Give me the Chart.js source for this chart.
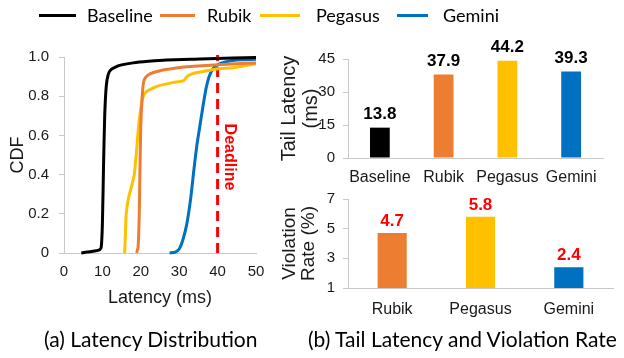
<!DOCTYPE html>
<html>
<head>
<meta charset="utf-8">
<script src="https://cdn.jsdelivr.net/npm/chart.js@4.4.1/dist/chart.umd.min.js"></script>
<style>
  html, body { margin: 0; padding: 0; background: #fff; }
  #wrap { position: relative; width: 624px; height: 358px; overflow: hidden; }
  #wrap canvas { position: absolute; left: 0; top: 0; }
  .leg { position: absolute; top: 4px; font: 18px Lato, sans-serif; color: #000; line-height: 22px; }
  .leg i { position: absolute; top: 10px; height: 3px; }
  .cap { position: absolute; top: 326px; font: 21px Lato, sans-serif; color: #000; white-space: nowrap; }
</style>
</head>
<body>
<div id="wrap">
  <canvas id="cdf-chart" width="624" height="358"></canvas>
  <canvas id="tail-chart" width="624" height="358"></canvas>
  <canvas id="viol-chart" width="624" height="358"></canvas>

  <div class="leg" style="left:87px"><i style="left:-48px;width:37px;background:#000"></i>Baseline</div>
  <div class="leg" style="left:207px"><i style="left:-47px;width:35px;background:#ED7D31"></i>Rubik</div>
  <div class="leg" style="left:316px"><i style="left:-56px;width:40px;background:#FFC000"></i>Pegasus</div>
  <div class="leg" style="left:443px"><i style="left:-46px;width:31px;background:#0070C0"></i>Gemini</div>

  <div class="cap" style="left:44px">(a) Latency Distribution</div>
  <div class="cap" style="left:308px">(b) Tail Latency and Violation Rate</div>
</div>

<script>
// CDF data (latency ms / cumulative fraction)
const baselineX = [4.5, 6, 8, 9.3, 9.7, 10.0, 10.3, 10.6, 11.0, 11.5, 12.2, 13.5, 15, 18, 22, 26.7, 35.4, 44, 50];
const baselineY = [0, 0.005, 0.01, 0.017, 0.03, 0.15, 0.45, 0.7, 0.85, 0.91, 0.935, 0.95, 0.96, 0.97, 0.978, 0.985, 0.99, 0.995, 0.997];

const rubikX = [18.9, 19.3, 19.6, 19.8, 20.0, 20.3, 20.7, 21.2, 22.5, 25, 28, 32, 36, 40, 45, 50];
const rubikY = [0, 0.03, 0.2, 0.45, 0.65, 0.78, 0.87, 0.895, 0.915, 0.93, 0.94, 0.95, 0.955, 0.96, 0.965, 0.97];

const pegasusX = [15.8, 16.0, 16.2, 16.8, 17.6, 18.3, 18.8, 19.3, 19.8, 20.5, 21.3, 23, 25, 28.5, 31.2, 32, 33.5, 36, 40, 44, 47, 50];
const pegasusY = [0, 0.1, 0.2, 0.28, 0.34, 0.4, 0.5, 0.62, 0.71, 0.79, 0.82, 0.84, 0.855, 0.87, 0.88, 0.9, 0.915, 0.925, 0.94, 0.945, 0.955, 0.965];

const geminiX = [27.5, 29, 30, 31, 32, 33, 33.8, 34.6, 35.4, 36.2, 37, 37.8, 38.8, 40, 42, 45, 50];
const geminiY = [0, 0.005, 0.02, 0.07, 0.15, 0.28, 0.42, 0.55, 0.65, 0.75, 0.84, 0.9, 0.94, 0.96, 0.975, 0.985, 0.988];

const deadline = 40;

// bar data
const tailCats = ['Baseline', 'Rubik', 'Pegasus', 'Gemini'];
const tailVals = [13.8, 37.9, 44.2, 39.3];
const tailColors = ['#000000', '#ED7D31', '#FFC000', '#0070C0'];

const violCats = ['Rubik', 'Pegasus', 'Gemini'];
const violVals = [4.7, 5.8, 2.4];
const violColors = ['#ED7D31', '#FFC000', '#0070C0'];

const FONT = "'Liberation Sans', Arial, sans-serif";
const AXIS = '#c8c8c8';
const TXT = '#1a1a1a';

Chart.defaults.font.family = FONT;
Chart.defaults.color = TXT;
Chart.defaults.animation = false;

const pts = (xs, ys) => xs.map((x, i) => ({ x: x, y: ys[i] }));

function fixSize(w, h) {
    return function (scale) {
        if (w != null) scale.width = w;
        if (h != null) scale.height = h;
    };
}

// rotated "Deadline" note next to the dashed line
const deadlineNote = {
    id: 'deadlineNote',
    afterDatasetsDraw(chart) {
        const { ctx, scales } = chart;
        const x = scales.x.getPixelForValue(deadline) + 12;
        const y = scales.y.getPixelForValue(0.49);
        ctx.save();
        ctx.translate(x, y);
        ctx.rotate(Math.PI / 2);
        ctx.font = 'bold 16px ' + FONT;
        ctx.fillStyle = '#FF0000';
        ctx.textAlign = 'center';
        ctx.textBaseline = 'middle';
        ctx.fillText('Deadline', 0, 0);
        ctx.restore();
    }
};

// value labels above bars
function barLabels(color, gap) {
    return {
        id: 'barLabels',
        afterDatasetsDraw(chart) {
            const { ctx } = chart;
            const meta = chart.getDatasetMeta(0);
            const vals = chart.data.datasets[0].data;
            ctx.save();
            ctx.font = 'bold 17px ' + FONT;
            ctx.fillStyle = color;
            ctx.textAlign = 'center';
            ctx.textBaseline = 'bottom';
            meta.data.forEach((bar, i) => {
                ctx.fillText(vals[i].toFixed(1), bar.x, bar.y - gap);
            });
            ctx.restore();
        }
    };
}

const lineDs = (label, data, color) => ({
    label: label,
    data: data,
    borderColor: color,
    borderWidth: 3,
    pointRadius: 0,
    tension: 0.2,
    fill: false
});

// (a) CDF chart
new Chart(document.getElementById('cdf-chart').getContext('2d'), {
    type: 'line',
    data: {
        datasets: [
            lineDs('Baseline', pts(baselineX, baselineY), '#000000'),
            lineDs('Rubik', pts(rubikX, rubikY), '#ED7D31'),
            lineDs('Pegasus', pts(pegasusX, pegasusY), '#FFC000'),
            lineDs('Gemini', pts(geminiX, geminiY), '#0070C0'),
            {
                label: 'Deadline',
                data: [{ x: deadline, y: 0 }, { x: deadline, y: 1.01 }],
                borderColor: '#FF0000',
                borderWidth: 3,
                borderDash: [10, 6],
                pointRadius: 0
            }
        ]
    },
    options: {
        responsive: false,
        clip: false,
        layout: { padding: { left: 0, top: 57, right: 368, bottom: 49 } },
        plugins: { legend: { display: false }, tooltip: { enabled: false } },
        scales: {
            x: {
                type: 'linear', min: 0, max: 50,
                afterFit: fixSize(null, 56),
                border: { color: AXIS },
                grid: { display: false, drawTicks: false },
                ticks: { stepSize: 10, padding: 10, maxRotation: 0, font: { size: 15 } },
                title: { display: true, text: 'Latency (ms)', font: { size: 18 }, padding: 0 }
            },
            y: {
                min: 0, max: 1,
                afterFit: fixSize(64, null),
                border: { color: AXIS },
                grid: { drawOnChartArea: false, tickLength: 5, color: AXIS },
                ticks: { stepSize: 0.2, padding: 10, font: { size: 15 } },
                title: { display: true, text: 'CDF', font: { size: 18 }, padding: { top: 7 } }
            }
        }
    },
    plugins: [deadlineNote]
});

// (b) top: tail latency
new Chart(document.getElementById('tail-chart').getContext('2d'), {
    type: 'bar',
    data: {
        labels: tailCats,
        datasets: [{ data: tailVals, backgroundColor: tailColors, barPercentage: 0.31, categoryPercentage: 1 }]
    },
    options: {
        responsive: false,
        layout: { padding: { left: 278, top: 59, right: 21, bottom: 160 } },
        plugins: { legend: { display: false }, tooltip: { enabled: false } },
        scales: {
            x: {
                afterFit: fixSize(null, 40),
                border: { color: AXIS },
                grid: { display: false, drawTicks: false },
                ticks: { padding: 10, maxRotation: 0, minRotation: 0, autoSkip: false, font: { size: 16 } }
            },
            y: {
                min: 0, max: 45,
                afterFit: fixSize(70, null),
                border: { color: AXIS },
                grid: { drawOnChartArea: false, tickLength: 5, color: AXIS },
                ticks: { stepSize: 15, padding: 8, font: { size: 15 } },
                title: { display: true, text: ['Tail Latency', '(ms)'], font: { size: 20, lineHeight: 1.12 }, padding: 0 }
            }
        }
    },
    plugins: [barLabels('#000000', 5)]
});

// (b) bottom: violation rate
new Chart(document.getElementById('viol-chart').getContext('2d'), {
    type: 'bar',
    data: {
        labels: violCats,
        datasets: [{ data: violVals, backgroundColor: violColors, barPercentage: 0.33, categoryPercentage: 1 }]
    },
    options: {
        responsive: false,
        layout: { padding: { left: 278, top: 199, right: 11, bottom: 30 } },
        plugins: { legend: { display: false }, tooltip: { enabled: false } },
        scales: {
            x: {
                afterFit: fixSize(null, 40),
                border: { color: AXIS },
                grid: { display: false, drawTicks: false },
                ticks: { padding: 12, maxRotation: 0, minRotation: 0, autoSkip: false, font: { size: 16 } }
            },
            y: {
                min: 1, max: 7,
                afterFit: fixSize(70, null),
                border: { color: AXIS },
                grid: { drawOnChartArea: false, tickLength: 5, color: AXIS },
                ticks: { stepSize: 2, padding: 8, font: { size: 15 } },
                title: { display: true, text: ['Violation', 'Rate (%)'], font: { size: 19, lineHeight: 1.0 }, padding: { top: 2 } }
            }
        }
    },
    plugins: [barLabels('#FF0000', 3)]
});
</script>
</body>
</html>
